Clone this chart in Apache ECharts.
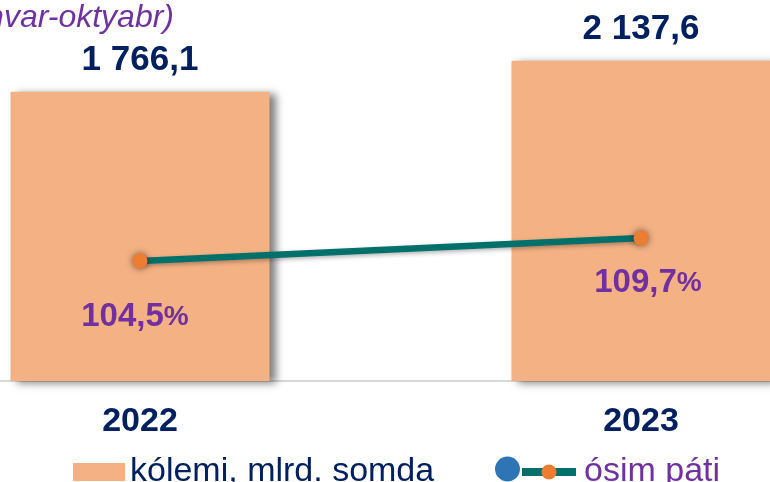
<!DOCTYPE html>
<html>
<head>
<meta charset="utf-8">
<script src="https://cdn.jsdelivr.net/npm/echarts@6/dist/echarts.min.js"></script>
<style>html,body{margin:0;padding:0;background:#fff;}#c{width:770px;height:482px;}</style>
</head>
<body>
<div id="c"></div>
<script>
const categories = ['2022', '2023'];
const volumeValues = [1766.1, 2137.6];
const growthValues = [104.5, 109.7];
const seriesNames = ['kólemi, mlrd. somda', 'ósim páti'];
const titleText = '(yanvar-oktyabr)';

const FONT = '"Liberation Sans", Arial, sans-serif';
const fmtNum = v => {
  const parts = v.toFixed(1).split('.');
  return parts[0].replace(/\B(?=(\d{3})+(?!\d))/g, ' ') + ',' + parts[1];
};
const growthLabelOffsets = [[-5, 27], [7, 16]];

const chart = echarts.init(document.getElementById('c'), null, {renderer: 'canvas'});
chart.setOption({
  animation: false,
  backgroundColor: '#ffffff',
  title: {
    text: titleText,
    left: 174,
    textAlign: 'right',
    top: 2,
    padding: 0,
    textStyle: {fontFamily: FONT, fontStyle: 'italic', fontWeight: 'normal', fontSize: 32, color: '#7030A0'}
  },
  grid: {left: -110.5, right: -121.5, top: 30.5, bottom: 101, containLabel: false, outerBoundsMode: 'none'},
  xAxis: {
    type: 'category',
    data: categories,
    axisTick: {show: false},
    axisLine: {show: true, onZero: false, lineStyle: {color: '#D9D9D9', width: 2}},
    axisLabel: {margin: 24, fontFamily: FONT, fontWeight: 'bold', fontSize: 34, color: '#002060'},
    splitLine: {show: false}
  },
  yAxis: [
    {type: 'value', min: -1700, max: 2500, startValue: -1700, show: false, splitLine: {show: false}},
    {type: 'value', min: 77.4, max: 156.6, show: false, splitLine: {show: false}}
  ],
  legend: [
    {
      data: [seriesNames[0]], left: 73, top: 455, padding: 0,
      itemWidth: 52, itemHeight: 18, icon: 'rect',
      textStyle: {fontFamily: FONT, fontSize: 34, color: '#002060'}
    },
    {
      data: [seriesNames[1]], left: 518, top: 455, padding: 0,
      itemWidth: 54, itemHeight: 19,
      lineStyle: {width: 8, color: '#00706B'},
      itemStyle: {color: '#ED7D31'},
      textStyle: {fontFamily: FONT, fontSize: 34, color: '#7030A0', padding: [0, 0, 0, 3]}
    }
  ],
  graphic: [
    {type: 'circle', shape: {cx: 507.5, cy: 469, r: 12.5}, style: {fill: '#2E75B6'}, z: 100}
  ],
  series: [
    {
      name: seriesNames[0],
      type: 'bar',
      data: volumeValues,
      barWidth: 259,
      itemStyle: {color: '#F4B183', shadowColor: 'rgba(0,0,0,0.5)', shadowBlur: 8, shadowOffsetX: 6, shadowOffsetY: 2},
      label: {
        show: true, position: 'top', distance: 14,
        formatter: p => fmtNum(p.value),
        fontFamily: FONT, fontWeight: 'bold', fontSize: 35, color: '#002060'
      },
      z: 2
    },
    {
      name: seriesNames[1],
      type: 'line',
      yAxisIndex: 1,
      data: growthValues.map((v, i) => ({
        value: v,
        label: {offset: growthLabelOffsets[i]}
      })),
      symbol: 'circle',
      symbolSize: 15,
      lineStyle: {color: '#00706B', width: 6.5, shadowColor: 'rgba(0,0,0,0.3)', shadowBlur: 4, shadowOffsetY: 2},
      itemStyle: {color: '#ED7D31', shadowColor: 'rgba(0,0,0,0.55)', shadowBlur: 7},
      label: {
        show: true, position: 'bottom', distance: 5,
        formatter: p => '{n|' + fmtNum(p.value) + '}{p|%}',
        rich: {
          n: {fontFamily: FONT, fontWeight: 'bold', fontSize: 33, color: '#7030A0'},
          p: {fontFamily: FONT, fontWeight: 'bold', fontSize: 28, color: '#7030A0'}
        }
      },
      z: 5
    }
  ]
});
</script>
</body>
</html>
